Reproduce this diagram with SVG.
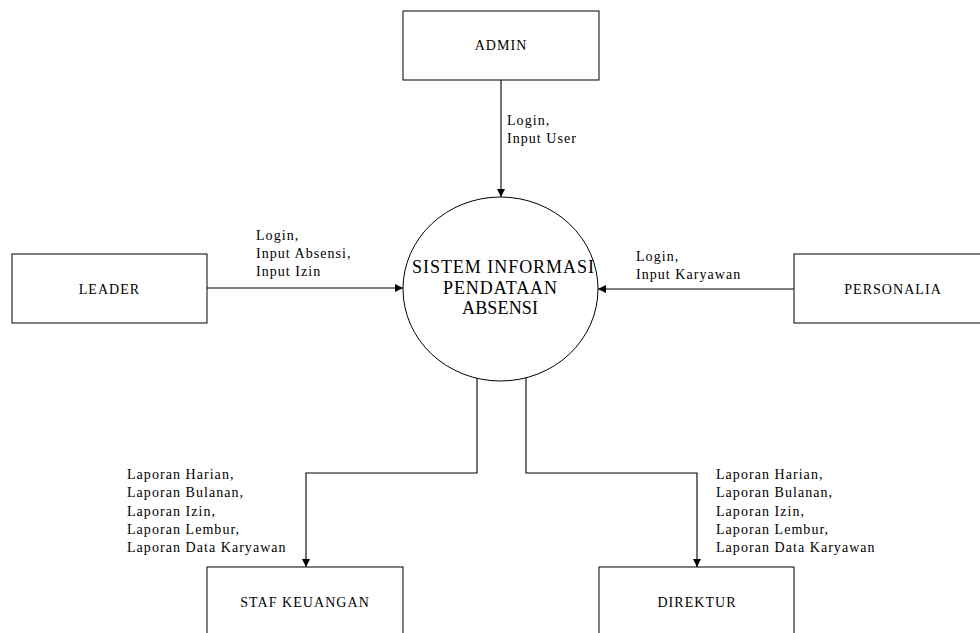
<svg xmlns="http://www.w3.org/2000/svg" width="980" height="633" viewBox="0 0 980 633">
<defs>
<style>
.box{fill:#fff;stroke:#000;stroke-width:1}
.t{font-family:"Liberation Serif","Times New Roman",serif;font-size:14px;letter-spacing:1.05px;fill:#000}
.c{text-anchor:middle}
.big{font-family:"Liberation Serif","Times New Roman",serif;font-size:18px;fill:#000;text-anchor:middle}
.line{fill:none;stroke:#000;stroke-width:1.1}
</style>
<marker id="arr" viewBox="0 0 10 10" refX="10" refY="5" markerWidth="8" markerHeight="8" markerUnits="userSpaceOnUse" orient="auto">
<path d="M0,0 L10,5 L0,10 Z" fill="#000"/>
</marker>
</defs>
<rect width="980" height="633" fill="#fff"/>
<g id="connectors">
<line class="line" x1="501" y1="80" x2="501" y2="197" marker-end="url(#arr)"/>
<line class="line" x1="207" y1="288" x2="403" y2="288" marker-end="url(#arr)"/>
<line class="line" x1="794" y1="289" x2="598" y2="289" marker-end="url(#arr)"/>
<path class="line" d="M477,378 V473 H306 V567" marker-end="url(#arr)"/>
<path class="line" d="M526,378 V473 H697 V567" marker-end="url(#arr)"/>
<text class="t" x="507" y="125">Login,</text>
<text class="t" x="507" y="143">Input User</text>
<text class="t" x="256" y="240">Login,</text>
<text class="t" x="256" y="258">Input Absensi,</text>
<text class="t" x="256" y="276">Input Izin</text>
<text class="t" x="636" y="261">Login,</text>
<text class="t" x="636" y="279">Input Karyawan</text>
<text class="t" x="127" y="479">Laporan Harian,</text>
<text class="t" x="127" y="497">Laporan Bulanan,</text>
<text class="t" x="127" y="515.5">Laporan Izin,</text>
<text class="t" x="127" y="534">Laporan Lembur,</text>
<text class="t" x="127" y="552">Laporan Data Karyawan</text>
<text class="t" x="716" y="479">Laporan Harian,</text>
<text class="t" x="716" y="497">Laporan Bulanan,</text>
<text class="t" x="716" y="515.5">Laporan Izin,</text>
<text class="t" x="716" y="534">Laporan Lembur,</text>
<text class="t" x="716" y="552">Laporan Data Karyawan</text>
</g>
<g id="admin">
<rect class="box" x="403" y="11" width="196" height="69"/>
<text class="t c" x="501" y="50">ADMIN</text>
</g>
<g id="leader">
<rect class="box" x="12" y="254" width="195" height="69"/>
<text class="t c" x="109.5" y="294">LEADER</text>
</g>
<g id="personalia">
<rect class="box" x="794" y="254" width="200" height="69"/>
<text class="t c" x="893" y="294">PERSONALIA</text>
</g>
<g id="sistem">
<ellipse class="box" cx="500.5" cy="289" rx="97.5" ry="92"/>
<text class="big" x="503" y="273" textLength="182" lengthAdjust="spacing">SISTEM INFORMASI</text>
<text class="big" x="500" y="293.5" textLength="114" lengthAdjust="spacing">PENDATAAN</text>
<text class="big" x="500" y="314" textLength="76" lengthAdjust="spacing">ABSENSI</text>
</g>
<g id="staf">
<rect class="box" x="207" y="567" width="196" height="90"/>
<text class="t c" x="305" y="607">STAF KEUANGAN</text>
</g>
<g id="direktur">
<rect class="box" x="599" y="567" width="195" height="90"/>
<text class="t c" x="697" y="607">DIREKTUR</text>
</g>
</svg>
